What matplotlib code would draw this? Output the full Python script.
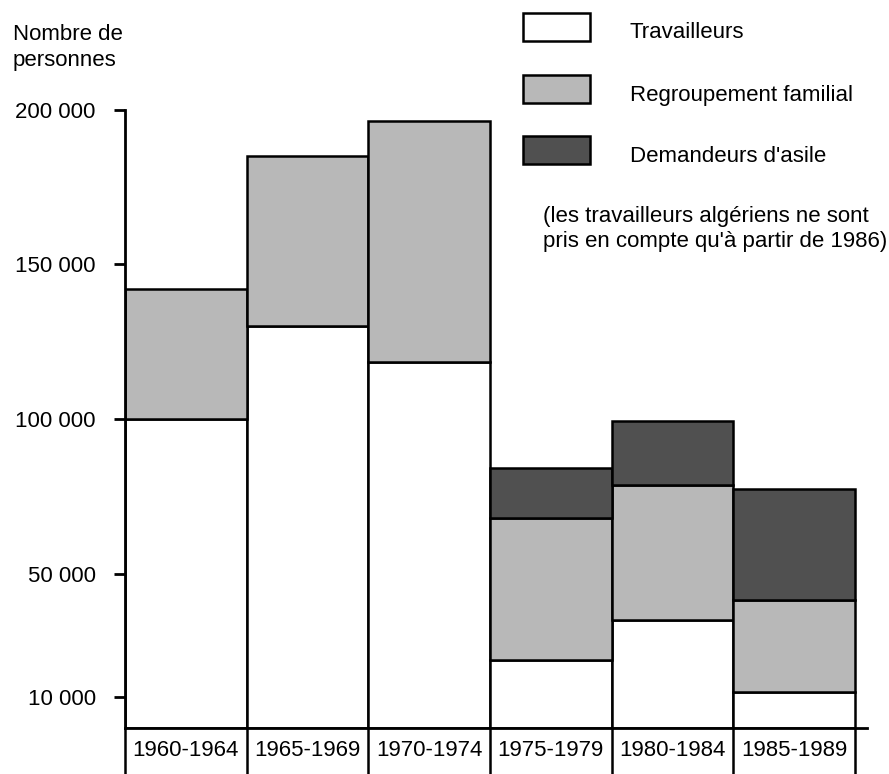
import matplotlib.pyplot as plt
import numpy as np
from matplotlib.patches import Rectangle

# periods and stacked values (persons)
periods = ['1960-1964', '1965-1969', '1970-1974', '1975-1979', '1980-1984', '1985-1989']
travailleurs = [100000, 130000, 118500, 22000, 35000, 11500]
regroupement = [42000, 55000, 78000, 46000, 43500, 30000]
asile = [0, 0, 0, 16000, 21000, 36000]

yticks = [10000, 50000, 100000, 150000, 200000]
ytick_labels = ['10 000', '50 000', '100 000', '150 000', '200 000']

series_names = ['Travailleurs', 'Regroupement familial', "Demandeurs d'asile"]
series_colors = ['white', '#b8b8b8', '#505050']

plt.rcParams['font.family'] = ['Liberation Sans', 'DejaVu Sans']
plt.rcParams['font.size'] = 16

fig = plt.figure(figsize=(8.89, 7.74), dpi=100)
ax = fig.add_axes([125 / 889, 46 / 774, 742 / 889, 618 / 774])

x = np.arange(len(periods))
t = np.array(travailleurs)
r = np.array(regroupement)
a = np.array(asile)

kw = dict(width=1, align='edge', edgecolor='black', linewidth=1.8)
ax.bar(x, t, color=series_colors[0], **kw)
ax.bar(x, r, bottom=t, color=series_colors[1], **kw)
mask = a > 0
ax.bar(x[mask], a[mask], bottom=(t + r)[mask], color=series_colors[2], **kw)

ax.set_xlim(0, 6.1)
ax.set_ylim(0, 200000)

for side in ['top', 'right']:
    ax.spines[side].set_visible(False)
ax.spines['left'].set_linewidth(2)
ax.spines['bottom'].set_linewidth(2)

ax.set_yticks(yticks)
ax.set_yticklabels(ytick_labels, fontsize=16)
ax.tick_params(axis='y', direction='out', length=8, width=2, pad=13)

ax.set_xticks(x + 0.5)
ax.set_xticklabels(periods, fontsize=16)
ax.tick_params(axis='x', length=0, pad=9)

# cells under the baseline for the period labels
ax.vlines(np.arange(len(periods) + 1), 0, -0.1, transform=ax.get_xaxis_transform(),
          colors='black', linewidth=1.8, clip_on=False)

# y label
fig.text(13 / 889, 1 - 24 / 774, 'Nombre de\npersonnes', ha='left', va='top', linespacing=1.3)

# legend drawn by hand
box_tops = [13, 75, 136]
text_y = [33, 95, 156]
for name, col, bt, ty in zip(series_names, series_colors, box_tops, text_y):
    fig.add_artist(Rectangle((523 / 889, 1 - (bt + 28) / 774), 67 / 889, 28 / 774,
                             transform=fig.transFigure, facecolor=col,
                             edgecolor='black', linewidth=1.8))
    fig.text(630 / 889, 1 - ty / 774, name, ha='left', va='center')

fig.text(543 / 889, 1 - 229 / 774,
         "(les travailleurs algériens ne sont\npris en compte qu'à partir de 1986)",
         ha='left', va='center', linespacing=1.25)

fig.savefig('out.png', dpi=100)
